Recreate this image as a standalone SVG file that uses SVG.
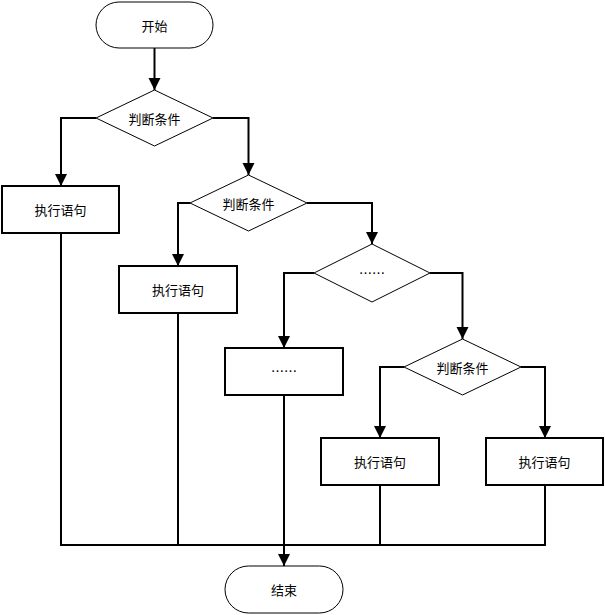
<svg xmlns="http://www.w3.org/2000/svg" width="605" height="615" viewBox="0 0 605 615">
<style>
.term{fill:#fff;stroke:#000;stroke-width:1}
.box{fill:#fff;stroke:#000;stroke-width:2}
.dia{fill:#fff;stroke:#000;stroke-width:1}
.t{font-family:"Noto Sans CJK SC","Liberation Sans",sans-serif;font-size:13px;text-anchor:middle;dominant-baseline:central;fill:#000}
.c{fill:none;stroke:#000;stroke-width:2}
</style>
<defs>
<marker id="ah" markerUnits="userSpaceOnUse" markerWidth="14" markerHeight="14" viewBox="0 0 14 14" refX="12" refY="7" orient="auto">
<path d="M0,1 L12,7 L0,13 Z" fill="#000"/>
</marker>
</defs>
<g id="connectors">
<path class="c" d="M154.5,48 V90" marker-end="url(#ah)"/>
<path class="c" d="M96,118 H61 V186" marker-end="url(#ah)"/>
<path class="c" d="M213,118 H248.5 V175" marker-end="url(#ah)"/>
<path class="c" d="M190,203 H178 V266" marker-end="url(#ah)"/>
<path class="c" d="M307,203 H372 V244" marker-end="url(#ah)"/>
<path class="c" d="M314,273 H284 V348" marker-end="url(#ah)"/>
<path class="c" d="M430,273 H462.5 V339" marker-end="url(#ah)"/>
<path class="c" d="M404,367 H380 V438" marker-end="url(#ah)"/>
<path class="c" d="M521,367 H545 V438" marker-end="url(#ah)"/>
<path class="c" d="M61,233 V545 H545 V485"/>
<path class="c" d="M178,313 V545"/>
<path class="c" d="M380,485 V545"/>
<path class="c" d="M284,395 V566" marker-end="url(#ah)"/>
</g>
<g id="start">
<rect class="term" x="96" y="2" width="117" height="46" rx="23"/>
<text class="t" x="154.5" y="25">开始</text>
</g>
<g id="cond1">
<polygon class="dia" points="154.5,90 213,118 154.5,146 96,118"/>
<text class="t" x="154.5" y="118">判断条件</text>
</g>
<g id="exec1">
<rect class="box" x="2" y="186" width="117" height="47"/>
<text class="t" x="60.5" y="209.5">执行语句</text>
</g>
<g id="cond2">
<polygon class="dia" points="248.5,175 307,203 248.5,231 190,203"/>
<text class="t" x="248.5" y="203">判断条件</text>
</g>
<g id="exec2">
<rect class="box" x="119" y="266" width="118" height="47"/>
<text class="t" x="178" y="289.5">执行语句</text>
</g>
<g id="cond3">
<polygon class="dia" points="372,244 430,273 372,302 314,273"/>
<text class="t" x="372" y="272">……</text>
</g>
<g id="exec3">
<rect class="box" x="225" y="348" width="118" height="47"/>
<text class="t" x="284" y="370">……</text>
</g>
<g id="cond4">
<polygon class="dia" points="462.5,339 521,367 462.5,395 404,367"/>
<text class="t" x="462.5" y="367">判断条件</text>
</g>
<g id="exec4">
<rect class="box" x="321" y="438" width="118" height="47"/>
<text class="t" x="380" y="461.5">执行语句</text>
</g>
<g id="exec5">
<rect class="box" x="486" y="438" width="117" height="47"/>
<text class="t" x="544.5" y="461.5">执行语句</text>
</g>
<g id="end">
<rect class="term" x="225" y="566" width="118" height="47" rx="23.5"/>
<text class="t" x="284" y="589.5">结束</text>
</g>
</svg>
